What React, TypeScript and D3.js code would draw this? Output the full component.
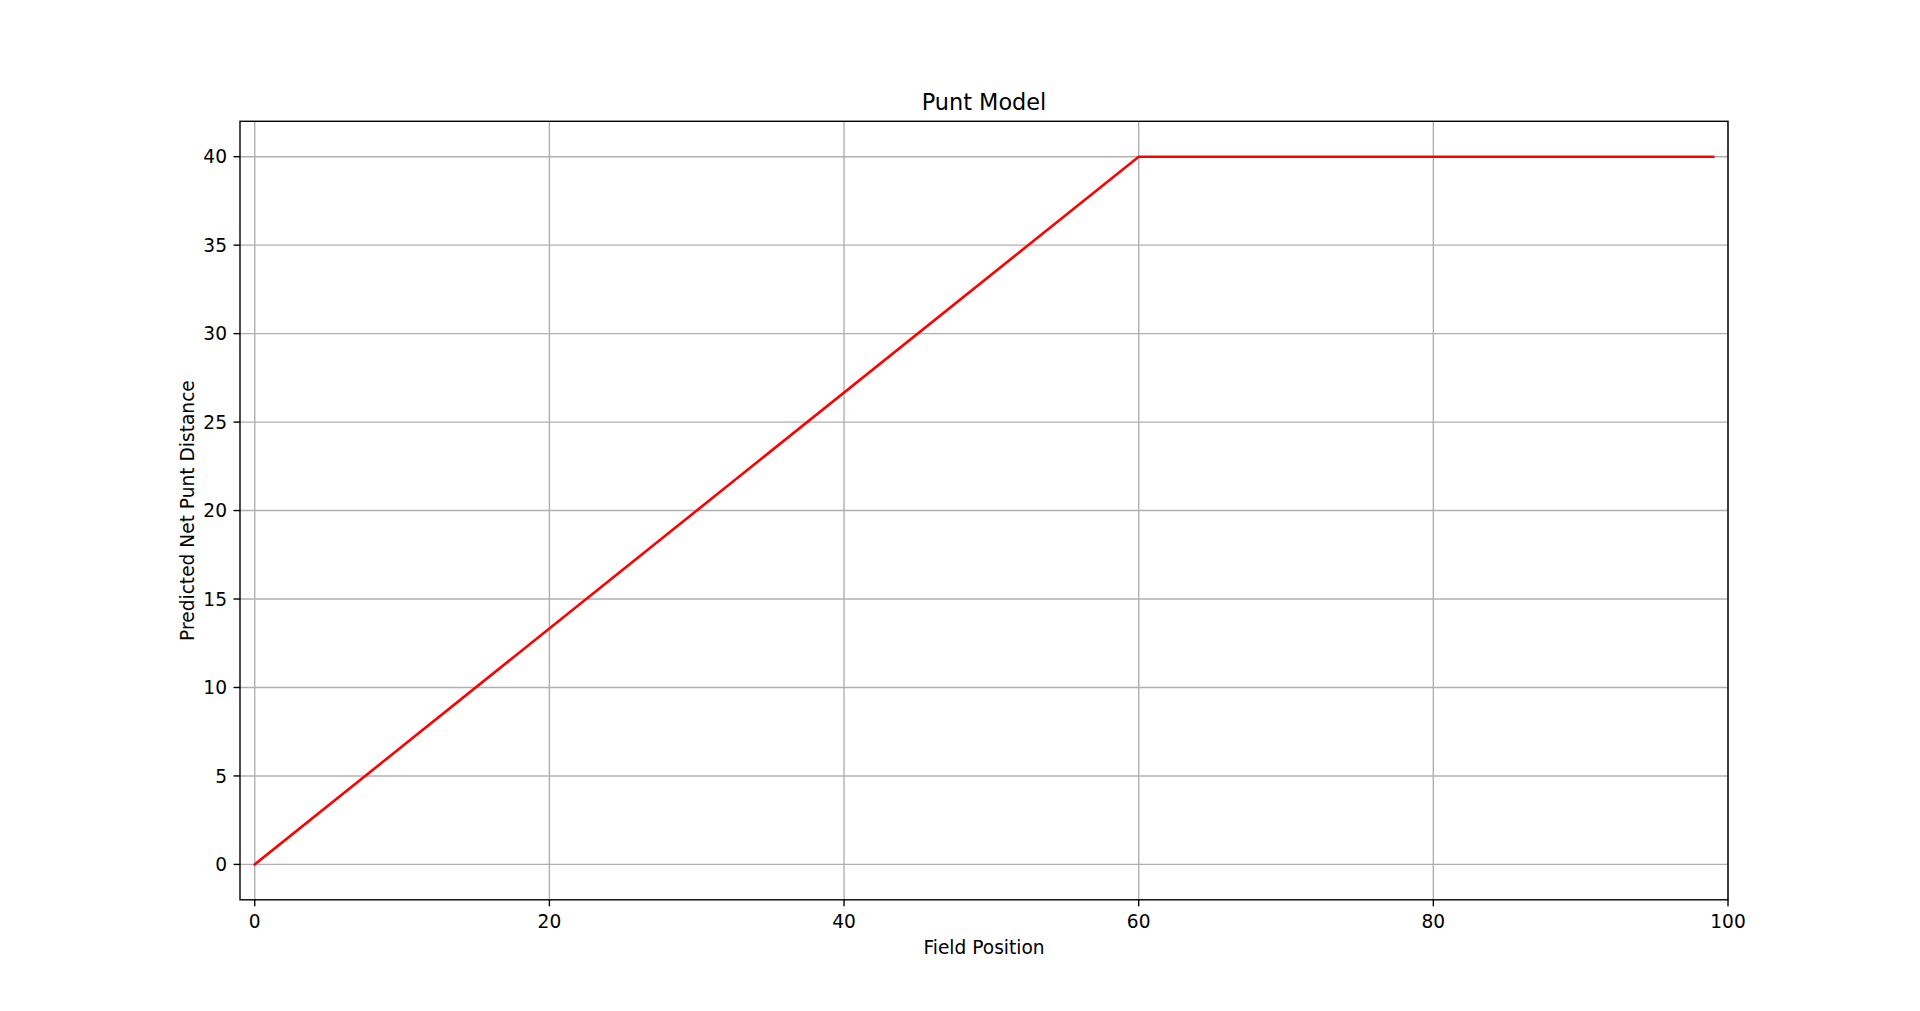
import React from "react";
import * as d3 from "d3";

const fieldPosition = [0, 60, 99];
const netPuntDistance = [0, 40, 40];
const xTicks = [0, 20, 40, 60, 80, 100];
const yTicks = [0, 5, 10, 15, 20, 25, 30, 35, 40];

const W = 1920;
const H = 1011;
const L = 240, R = 1728, T = 121.3, B = 899.8;
const FONT = "DejaVu Sans";
const FS = 18.6;

export default function App() {
  const x = d3.scaleLinear().domain([-1, 100]).range([L, R]);
  const y = d3.scaleLinear().domain([-2, 42]).range([B, T]);
  const pts = fieldPosition.map((v, i) => [v, netPuntDistance[i]] as [number, number]);
  const line = d3.line<[number, number]>().x(d => x(d[0])).y(d => y(d[1]));
  const tickLen = 6.5;
  return (
    <svg width={W} height={H} style={{ position: "absolute", left: 0, top: 0 }} fontFamily={FONT}>
      <rect x={0} y={0} width={W} height={H} fill="#fff" />
      {xTicks.map(t => (
        <line key={"gx" + t} x1={x(t)} x2={x(t)} y1={T} y2={B} stroke="#b0b0b0" strokeWidth={1.4} />
      ))}
      {yTicks.map(t => (
        <line key={"gy" + t} x1={L} x2={R} y1={y(t)} y2={y(t)} stroke="#b0b0b0" strokeWidth={1.4} />
      ))}
      <path d={line(pts) || ""} fill="none" stroke="#ff0000" strokeWidth={2.6} strokeLinecap="square" />
      <rect x={L} y={T} width={R - L} height={B - T} fill="none" stroke="#000" strokeWidth={1.4} />
      {xTicks.map(t => (
        <g key={"tx" + t}>
          <line x1={x(t)} x2={x(t)} y1={B} y2={B + tickLen} stroke="#000" strokeWidth={1.4} />
          <text x={x(t)} y={927.5} textAnchor="middle" fontSize={FS} fill="#000">{t}</text>
        </g>
      ))}
      {yTicks.map(t => (
        <g key={"ty" + t}>
          <line x1={L - tickLen} x2={L} y1={y(t)} y2={y(t)} stroke="#000" strokeWidth={1.4} />
          <text x={L - tickLen - 6.5} y={y(t)} dy="0.36em" textAnchor="end" fontSize={FS} fill="#000">{t}</text>
        </g>
      ))}
      <text x={(L + R) / 2} y={110} textAnchor="middle" fontSize={22.4} fill="#000">Punt Model</text>
      <text x={(L + R) / 2} y={953.5} textAnchor="middle" fontSize={FS} fill="#000">Field Position</text>
      <text transform={`translate(193.5,${(T + B) / 2}) rotate(-90)`} textAnchor="middle" fontSize={FS} fill="#000">Predicted Net Punt Distance</text>
    </svg>
  );
}
